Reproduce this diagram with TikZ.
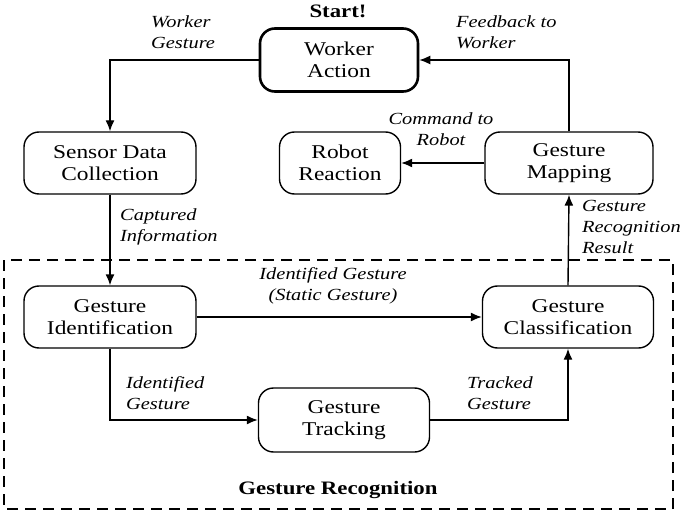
\documentclass[tikz,border=0pt]{standalone}
\usepackage{fontspec}
\setmainfont{Liberation Serif}[FakeStretch=1.2]
\usetikzlibrary{arrows.meta}
\tikzset{
  box/.style={draw, rounded corners=15pt, line width=1.4pt, minimum width=#1, minimum height=62pt, align=center, inner sep=0pt, font=\fontsize{19.5}{22}\selectfont},
  box/.default=170pt,
  lbl/.style={inner sep=0pt, align=left, font=\fontsize{17}{21}\selectfont\itshape},
  clbl/.style={inner sep=0pt, align=center, font=\fontsize{17}{21}\selectfont\itshape},
  ttl/.style={inner sep=0pt, font=\fontsize{19}{22}\selectfont\bfseries},
  arr/.style={line width=1.4pt, -{Latex[length=11pt,width=9pt]}},
  con/.style={line width=1.4pt}
}
\begin{document}
\begin{tikzpicture}[x=1pt,y=-1pt]
\useasboundingbox (0,0) rectangle (685,513);
% dashed group
\draw[line width=1.8pt, dash pattern=on 11pt off 7pt] (4,260) rectangle (673,509);
% nodes
\node[box=158pt, minimum height=63pt, line width=2.6pt] (wa) at (339,60) {Worker\\Action};
\node[box=172pt] (sdc) at (110,163) {Sensor Data\\Collection};
\node[box=121pt] (rr) at (340,163) {Robot\\Reaction};
\node[box=168pt] (gm) at (569,163) {Gesture\\Mapping};
\node[box=172pt] (gi) at (110,317) {Gesture\\Identification};
\node[box=171pt] (gc) at (568,317) {Gesture\\Classification};
\node[box=171pt, minimum height=64pt] (gt) at (344,420) {Gesture\\Tracking};
% titles
\node[ttl] (start) at (338,11) {Start!};
\node[ttl] (grt) at (338,490) {Gesture Recognition};
% connectors
\draw[arr] (wa.west) -| (sdc.north);
\draw[arr] (sdc.south) -- (gi.north);
\draw[arr] (gi.east) -- (gc.west);
\draw[arr] (gi.south) |- (gt.west);
\draw[arr] (gt.east) -| (gc.south);
\draw[arr] (gc.north) -- (gm.south);
\draw[arr] (gm.west) -- (rr.east);
\draw[arr] (gm.north) |- (wa.east);
% labels
\node[lbl, anchor=west] (l1) at (151,32) {Worker\\Gesture};
\node[lbl, anchor=west] (l2) at (456,32) {Feedback to\\Worker};
\node[clbl] (l3) at (441,129) {Command to\\Robot};
\node[lbl, anchor=west] (l4) at (120,227) {Captured\\Information};
\node[lbl, anchor=west] (l5) at (582,227) {Gesture\\Recognition\\Result};
\node[clbl] (l6) at (333,286) {Identified Gesture\\(Static Gesture)};
\node[lbl, anchor=west] (l7) at (126,393) {Identified\\Gesture};
\node[lbl, anchor=west] (l8) at (467,393) {Tracked\\Gesture};
\end{tikzpicture}
\end{document}
